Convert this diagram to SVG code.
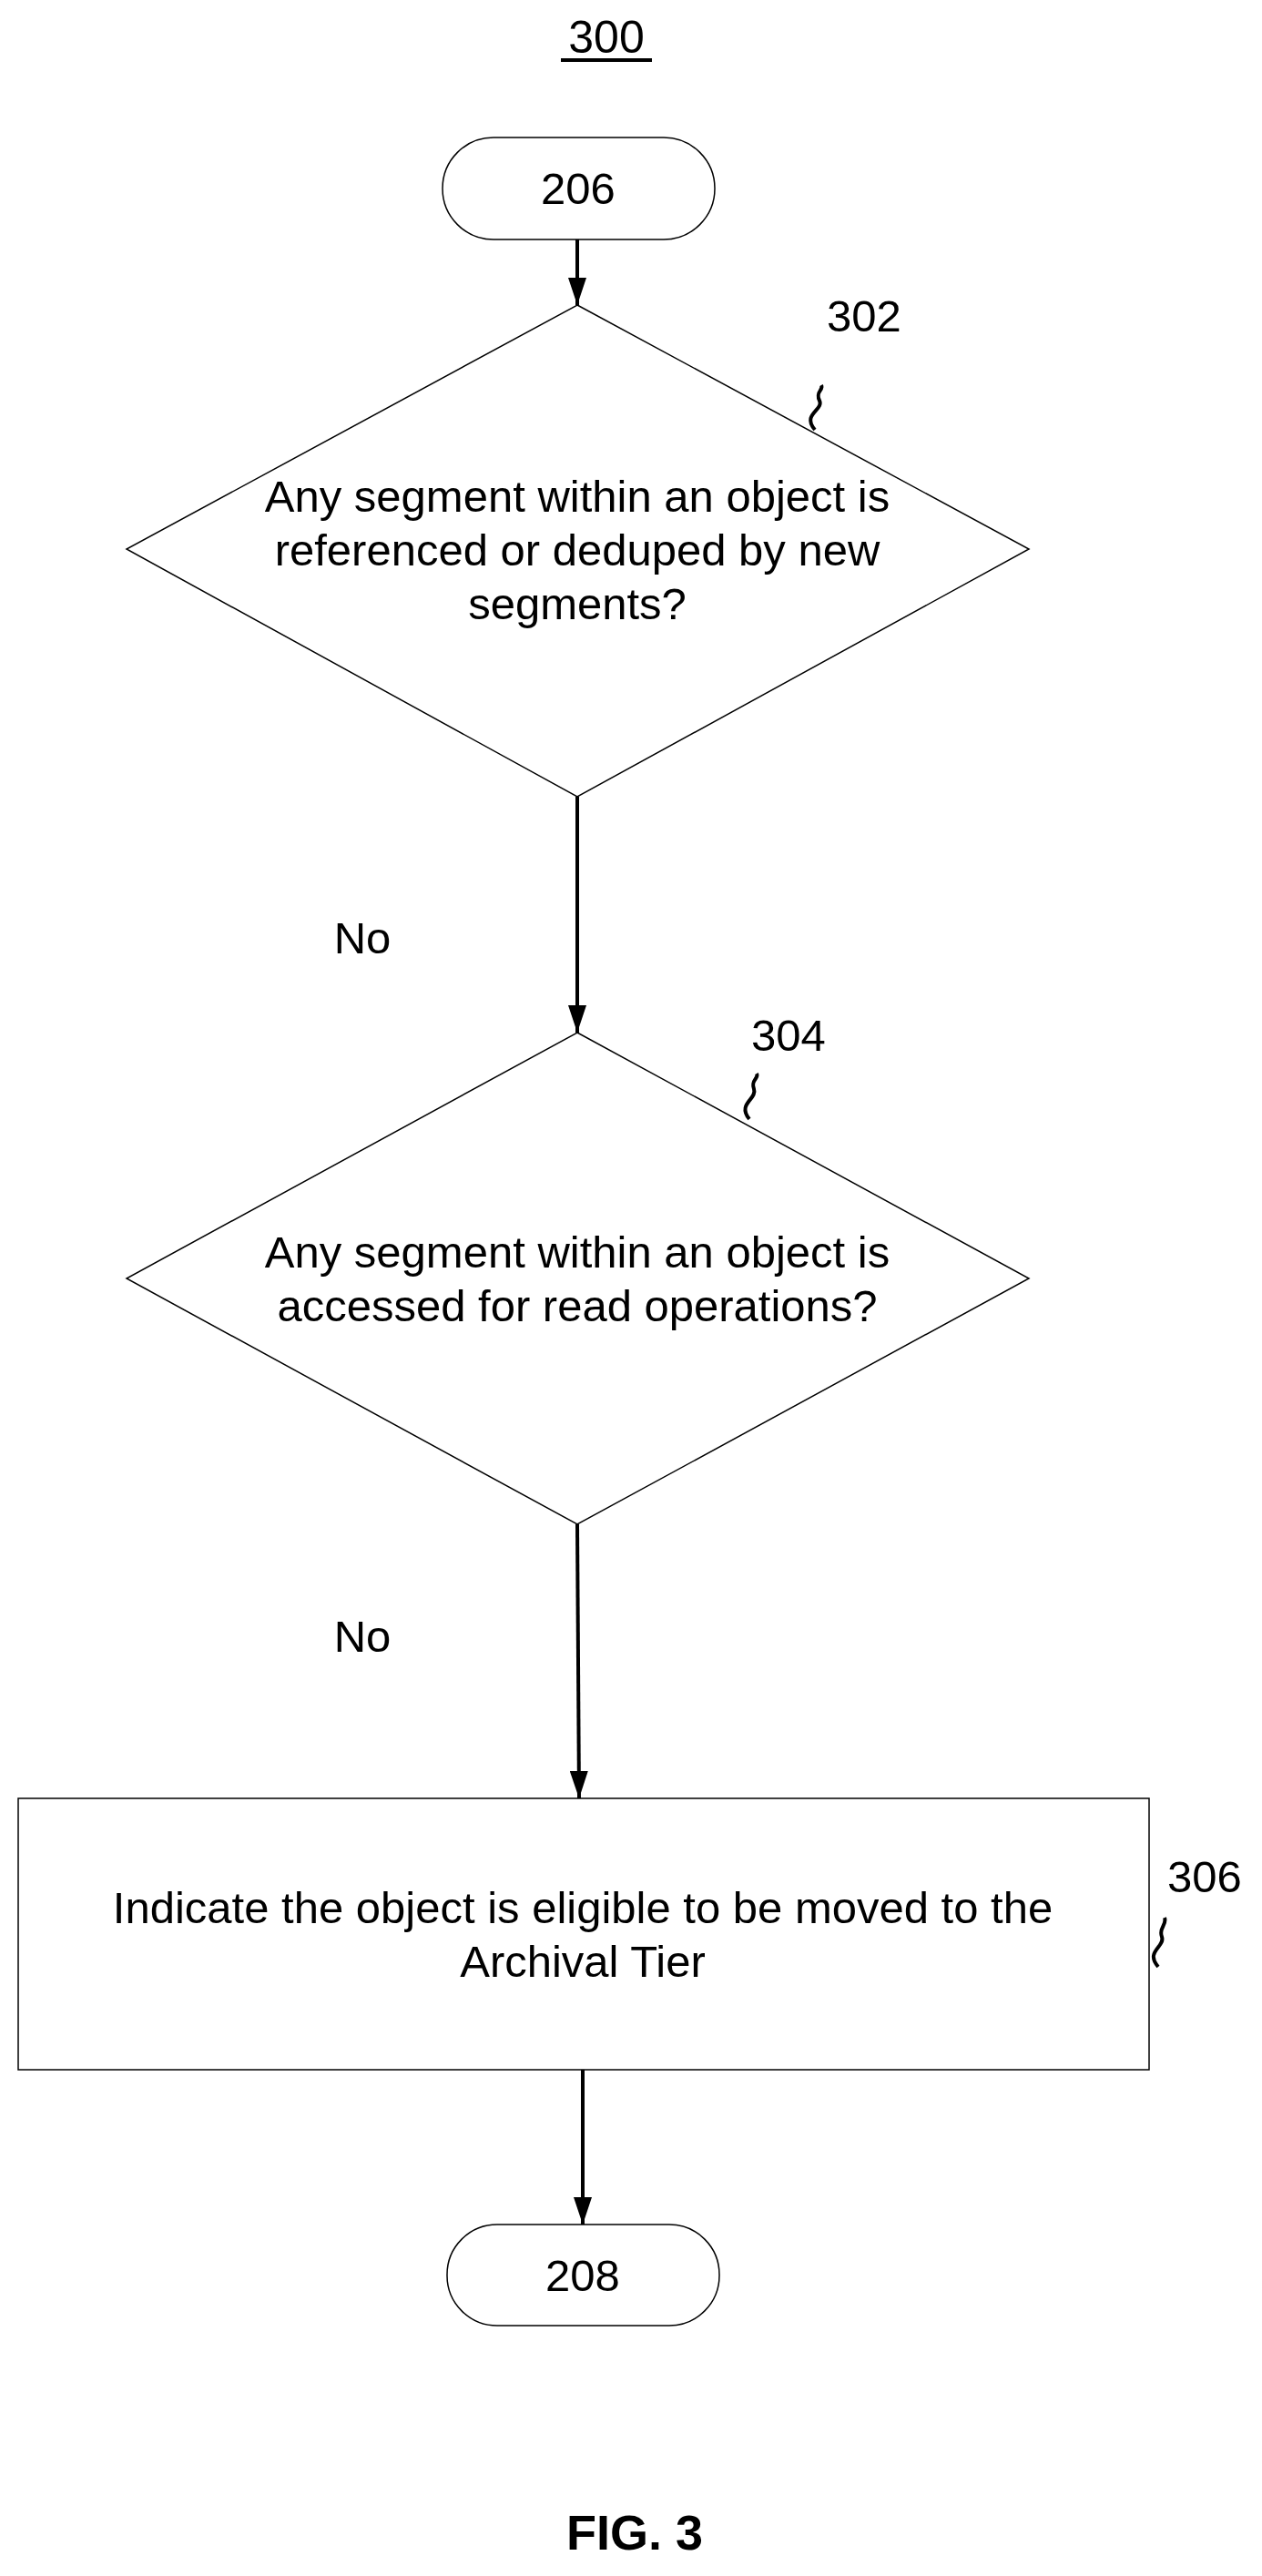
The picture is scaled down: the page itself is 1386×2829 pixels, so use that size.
<svg xmlns="http://www.w3.org/2000/svg" width="1386" height="2829" viewBox="0 0 1386 2829">
<defs>
<marker id="a2" viewBox="0 0 30 20" refX="30" refY="10" markerWidth="30" markerHeight="20" orient="auto" markerUnits="userSpaceOnUse"><path d="M0,0 L30,10 L0,20 Z" fill="#000"/></marker>
</defs>
<style>
text{font-family:"Liberation Sans",Arial,sans-serif;fill:#000;text-anchor:middle}
.t{font-size:49px}
.s{fill:#fff;stroke:#000;stroke-width:1.5}
.c{stroke:#000;stroke-width:4;fill:none}
.q{stroke:#000;stroke-width:4;fill:none}
</style>
<rect width="1386" height="2829" fill="#fff"/>
<g id="title"><text x="666" y="58" style="font-size:50px">300</text><line x1="616" y1="66" x2="716" y2="66" stroke="#000" stroke-width="4"/></g>
<g id="n206"><rect class="s" x="486" y="151" width="299" height="112" rx="56"/><text class="t" x="635" y="224">206</text></g>
<g id="n302"><polygon class="s" points="634,335 1130,603 634,875 139,603"/>
<text class="t" x="634" y="562">Any segment within an object is</text>
<text class="t" x="634" y="621">referenced or deduped by new</text>
<text class="t" x="634" y="680">segments?</text>
<text class="t" x="949" y="364">302</text>
<path class="q" d="M895,472 C880,455 905,450 900,440 C895,430 905,428 902,423"/></g>
<g id="n304"><polygon class="s" points="634,1134 1130,1404 634,1674 139,1404"/>
<text class="t" x="634" y="1392">Any segment within an object is</text>
<text class="t" x="634" y="1451">accessed for read operations?</text>
<text class="t" x="866" y="1154">304</text>
<path class="q" d="M823,1229 C809,1212 832,1207 828,1196 C824,1186 834,1184 831,1179"/></g>
<g id="n306"><rect class="s" x="20" y="1975" width="1242" height="298"/>
<text class="t" x="640" y="2112">Indicate the object is eligible to be moved to the</text>
<text class="t" x="640" y="2171">Archival Tier</text>
<text class="t" x="1323" y="2078">306</text>
<path class="q" d="M1272,2160 C1257,2143 1280,2138 1276,2127 C1272,2117 1282,2114 1279,2106"/></g>
<g id="n208"><rect class="s" x="491" y="2443" width="299" height="111" rx="55"/><text class="t" x="640" y="2516">208</text></g>
<g id="connectors">
<line class="c" x1="634" y1="263" x2="634" y2="335" marker-end="url(#a2)"/>
<line class="c" x1="634" y1="875" x2="634" y2="1134" marker-end="url(#a2)"/>
<line class="c" x1="634" y1="1674" x2="636" y2="1975" marker-end="url(#a2)"/>
<line class="c" x1="640" y1="2273" x2="640" y2="2443" marker-end="url(#a2)"/>
<text class="t" x="398" y="1047">No</text>
<text class="t" x="398" y="1814">No</text>
</g>
<g id="fig"><text x="697" y="2800" style="font-size:54px;font-weight:bold">FIG. 3</text></g>
</svg>
